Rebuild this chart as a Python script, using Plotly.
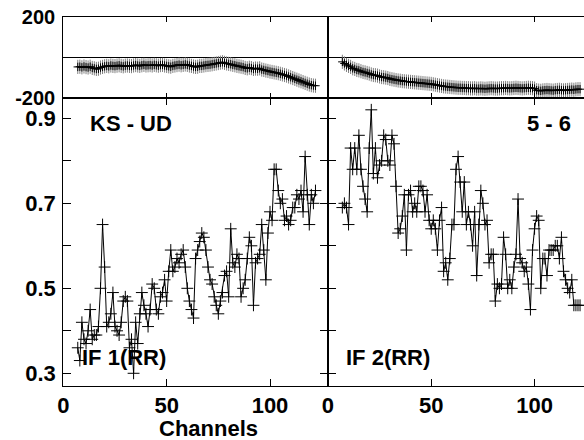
import plotly.graph_objects as go

# ---------------- data ----------------
channels = list(range(7, 123))

if1_amp = [0.36,0.33,0.42,0.38,0.37,0.40,0.45,0.38,0.39,0.39,
           0.41,0.50,0.65,0.55,0.41,0.42,0.44,0.49,0.41,0.40,
           0.39,0.42,0.47,0.48,0.47,0.36,0.38,0.30,0.42,0.37,
           0.44,0.49,0.46,0.44,0.41,0.45,0.51,0.50,0.45,0.44,
           0.48,0.49,0.52,0.47,0.54,0.59,0.54,0.55,0.57,0.56,
           0.58,0.59,0.55,0.50,0.47,0.45,0.43,0.57,0.59,0.61,
           0.63,0.62,0.59,0.55,0.52,0.51,0.48,0.46,0.44,0.47,
           0.49,0.53,0.54,0.48,0.64,0.56,0.55,0.58,0.57,0.48,
           0.50,0.52,0.57,0.62,0.60,0.46,0.56,0.57,0.58,0.65,
           0.59,0.52,0.63,0.68,0.66,0.78,0.78,0.73,0.70,0.71,
           0.66,0.67,0.65,0.66,0.69,0.69,0.72,0.71,0.73,0.68,
           0.81,0.72,0.65,0.72,0.70,0.73]

if2_amp = [0.69,0.70,0.69,0.65,0.83,0.78,0.83,0.78,0.86,0.78,
           0.74,0.71,0.68,0.83,0.92,0.77,0.83,0.76,0.79,0.80,
           0.86,0.85,0.80,0.79,0.86,0.84,0.74,0.63,0.64,0.67,
           0.72,0.59,0.72,0.73,0.68,0.70,0.68,0.74,0.74,0.73,
           0.68,0.72,0.66,0.64,0.66,0.64,0.59,0.66,0.69,0.54,
           0.56,0.52,0.57,0.65,0.65,0.78,0.81,0.75,0.68,0.75,
           0.65,0.68,0.65,0.60,0.68,0.53,0.65,0.73,0.70,0.65,
           0.66,0.56,0.58,0.58,0.47,0.51,0.50,0.51,0.62,0.58,
           0.50,0.52,0.50,0.55,0.58,0.71,0.57,0.56,0.54,0.55,
           0.51,0.45,0.59,0.64,0.67,0.66,0.50,0.57,0.57,0.53,
           0.59,0.59,0.59,0.60,0.60,0.57,0.62,0.54,0.52,0.50,
           0.49,0.52,0.46,0.46,0.46,0.46]

if1_phase = [-45,-44,-47,-43,-46,-48,-44,-50,-52,-55,
             -54,-48,-45,-42,-40,-42,-38,-40,-41,-39,
             -37,-40,-42,-39,-38,-40,-41,-38,-36,-38,
             -40,-37,-35,-38,-37,-36,-38,-35,-37,-39,
             -36,-35,-38,-40,-42,-44,-40,-38,-36,-34,
             -37,-35,-33,-35,-38,-40,-43,-45,-44,-40,
             -40,-38,-36,-35,-34,-32,-30,-28,-26,-24,
             -22,-25,-28,-30,-32,-35,-37,-40,-42,-44,
             -46,-50,-52,-49,-51,-55,-53,-54,-52,-58,
             -60,-63,-65,-68,-70,-72,-74,-76,-79,-82,
             -85,-88,-92,-96,-100,-104,-108,-112,-116,-120,
             -124,-128,-132,-135,-137,-138]

if2_phase = [-20,-28,-35,-40,-45,-52,-55,-60,-62,-66,
             -70,-72,-75,-78,-82,-85,-86,-88,-92,-95,
             -96,-98,-100,-104,-106,-108,-110,-112,-113,-115,
             -116,-117,-118,-119,-120,-121,-122,-123,-124,-125,
             -126,-127,-128,-129,-131,-133,-135,-137,-139,-141,
             -142,-143,-144,-145,-146,-147,-148,-148,-149,-149,
             -150,-150,-151,-151,-150,-152,-152,-151,-152,-153,
             -152,-151,-150,-151,-152,-152,-151,-150,-150,-149,
             -150,-151,-150,-149,-148,-149,-150,-151,-150,-149,
             -148,-149,-150,-152,-160,-162,-163,-161,-160,-159,
             -160,-161,-162,-160,-159,-158,-160,-161,-160,-159,
             -158,-157,-158,-156,-155,-155]

x_ticks = [0, 50, 100]
phase_ticks = [-200, 200]
phase_ticktext = ["-200", "200"]
amp_ticks = [0.3, 0.4, 0.5, 0.6, 0.7, 0.8, 0.9]
amp_ticktext = ["0.3", "", "0.5", "", "0.7", "", "0.9"]

# ---------------- layout geometry (pixels) ----------------
W, H = 584, 440
px_per_ch = 2.067
x_left0 = 63.3
x_div = x_left0 + 128 * px_per_ch
y_top, y_mid, y_bot = 17.3, 98.3, 385.7

def fx(p):
    return p / W

def fy(p):
    return 1 - p / H

FONT = "Liberation Sans, Arial, Helvetica, sans-serif"
tickfont = dict(family=FONT, size=22, color="black", weight="bold")
tickfont_small = dict(family=FONT, size=20, color="black", weight="bold")

fig = go.Figure()

def phase_trace(x, y, xa, ya):
    return go.Scatter(
        x=x, y=y, xaxis=xa, yaxis=ya, mode="lines+markers",
        line=dict(color="black", width=1.5),
        marker=dict(symbol="cross-thin", size=6, color="black",
                    line=dict(color="black", width=1)),
        error_y=dict(type="constant", value=35, color="#808080",
                     thickness=1, width=0),
        showlegend=False, hoverinfo="skip")

def amp_trace(x, y, xa, ya):
    return go.Scatter(
        x=x, y=y, xaxis=xa, yaxis=ya, mode="lines+markers",
        line=dict(color="black", width=1),
        marker=dict(symbol="cross-thin", size=8.5, color="black",
                    line=dict(color="black", width=1)),
        showlegend=False, hoverinfo="skip")

fig.add_trace(phase_trace(channels, if1_phase, "x", "y"))
fig.add_trace(phase_trace(channels, if2_phase, "x2", "y2"))
fig.add_trace(amp_trace(channels, if1_amp, "x3", "y3"))
fig.add_trace(amp_trace(channels, if2_amp, "x4", "y4"))

xr_left = [0, 128]
xr_right = [0, (W - x_div) / px_per_ch]

common_x = dict(showgrid=False, zeroline=False, showline=True, linecolor="black",
                linewidth=1.2, ticks="inside", ticklen=7, tickwidth=1,
                tickcolor="black", tickvals=x_ticks, mirror="ticks",
                tickfont=tickfont, automargin=False)
common_y = dict(showgrid=False, showline=True, linecolor="black", linewidth=1.2,
                tickcolor="black", tickwidth=1, tickfont=tickfont,
                automargin=False)

fig.update_layout(
    width=W, height=H, margin=dict(l=0, r=0, t=0, b=0, pad=0),
    paper_bgcolor="white", plot_bgcolor="white",
    xaxis=dict(common_x, domain=[fx(x_left0), fx(x_div)], range=xr_left,
               anchor="y", showticklabels=False, ticklen=5),
    yaxis=dict(common_y, domain=[fy(y_mid), fy(y_top)], range=[-200, 200],
               anchor="x", tickvals=phase_ticks, ticktext=phase_ticktext,
               ticks="", mirror=True, tickfont=tickfont_small,
               zeroline=True, zerolinecolor="black", zerolinewidth=1,
               ticklabelstandoff=3),
    xaxis2=dict(common_x, domain=[fx(x_div), 1], range=xr_right,
                anchor="y2", showticklabels=False, ticklen=5),
    yaxis2=dict(common_y, domain=[fy(y_mid), fy(y_top)], range=[-200, 200],
                anchor="x2", tickvals=phase_ticks, ticks="", showticklabels=False,
                zeroline=True, zerolinecolor="black", zerolinewidth=1),
    xaxis3=dict(common_x, domain=[fx(x_left0), fx(x_div)], range=xr_left,
                anchor="y3", ticklabelstandoff=0),
    yaxis3=dict(common_y, domain=[fy(y_bot), fy(y_mid)], range=[0.2708, 0.9471],
                anchor="x3", tickvals=amp_ticks, ticktext=amp_ticktext,
                ticks="inside", ticklen=8, mirror="ticks", zeroline=False,
                ticklabelstandoff=2),
    xaxis4=dict(common_x, domain=[fx(x_div), 1], range=xr_right,
                anchor="y4", ticklabelstandoff=0),
    yaxis4=dict(common_y, domain=[fy(y_bot), fy(y_mid)], range=[0.2708, 0.9471],
                anchor="x4", tickvals=amp_ticks, ticks="inside", ticklen=8,
                showticklabels=False, zeroline=False),
)

annfont = dict(family=FONT, size=22, color="black", weight="bold")
labels = [("KS - UD", 130.8, 123.3), ("5 - 6", 549, 123.3),
          ("IF 1(RR)", 123.5, 357.5), ("IF 2(RR)", 387.7, 357.5),
          ("Channels", 208, 428)]
for txt, px, py in labels:
    fig.add_annotation(text=txt, x=fx(px), y=fy(py), xref="paper", yref="paper",
                       xanchor="center", yanchor="middle", showarrow=False,
                       font=annfont)

fig.write_html(
    "out.html",
    config={"displayModeBar": False},
    post_script="document.body.style.margin='0px';document.body.style.overflow='hidden';",
)
